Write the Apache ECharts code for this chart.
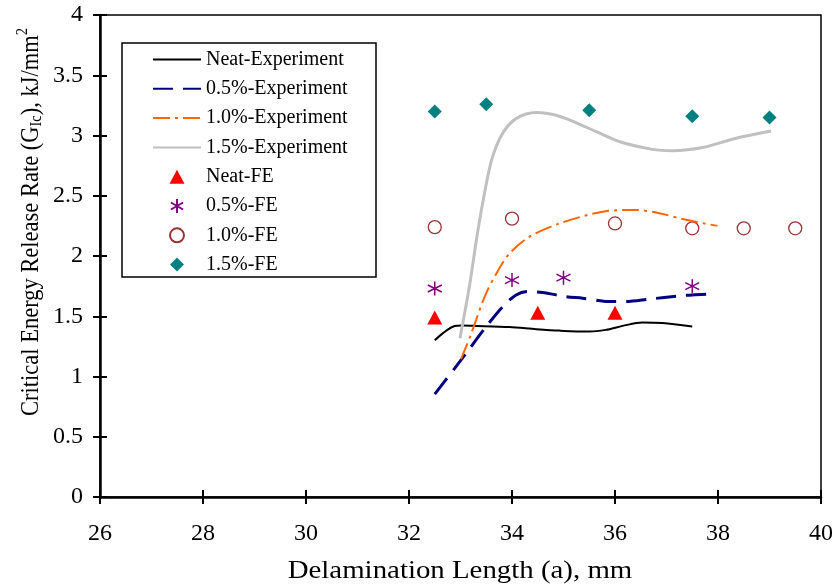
<!DOCTYPE html>
<html>
<head>
<meta charset="utf-8">
<script src="https://cdn.jsdelivr.net/npm/echarts@6/dist/echarts.min.js"></script>
<style>
html,body{margin:0;padding:0;background:#fff;}
#chart{width:836px;height:588px;}
</style>
</head>
<body>
<div id="chart"></div>
<script>
// ---- data ----
const xTicks = [26, 28, 30, 32, 34, 36, 38, 40];
const yTicks = [0, 0.5, 1, 1.5, 2, 2.5, 3, 3.5, 4];

const seriesNames = ['Neat-Experiment', '0.5%-Experiment', '1.0%-Experiment', '1.5%-Experiment',
                     'Neat-FE', '0.5%-FE', '1.0%-FE', '1.5%-FE'];

const neatExpX = [32.5, 32.66, 32.86, 33.05, 33.31, 33.95, 34.47, 34.92, 35.5, 35.82, 36.15, 36.53, 36.92, 37.5];
const neatExpY = [1.30, 1.36, 1.415, 1.423, 1.42, 1.41, 1.393, 1.381, 1.373, 1.387, 1.42, 1.448, 1.443, 1.415];

const p05ExpX = [32.5, 32.89, 33.11, 33.5, 33.82, 34.08, 34.30, 34.59, 35.05, 35.37, 35.89, 36.21, 36.66, 37.25, 37.5, 37.86];
const p05ExpY = [0.854, 1.07, 1.194, 1.415, 1.58, 1.677, 1.705, 1.697, 1.663, 1.65, 1.622, 1.622, 1.642, 1.669, 1.677, 1.683];

const p10ExpX = [33.01, 33.2, 33.47, 33.7, 33.95, 34.34, 34.92, 35.76, 36.40, 36.86, 37.38, 37.99];
const p10ExpY = [1.144, 1.346, 1.663, 1.857, 2.02, 2.16, 2.27, 2.368, 2.382, 2.355, 2.30, 2.25];

const p15ExpX = [32.99, 33.17, 33.33, 33.49, 33.62, 33.82, 34.08, 34.47, 34.92, 35.44, 36.08, 36.73, 37.12, 37.70, 38.35, 39.03];
const p15ExpY = [1.318, 1.74, 2.19, 2.575, 2.82, 3.02, 3.14, 3.19, 3.16, 3.07, 2.95, 2.885, 2.874, 2.90, 2.977, 3.037];

const neatFEX = [32.5, 34.5, 36.0];
const neatFEY = [1.49, 1.53, 1.53];

const p05FEX = [32.5, 34.0, 35.0, 37.5];
const p05FEY = [1.73, 1.80, 1.82, 1.75];

const p10FEX = [32.5, 34.0, 36.0, 37.5, 38.5, 39.5];
const p10FEY = [2.24, 2.31, 2.27, 2.23, 2.23, 2.23];

const p15FEX = [32.5, 33.5, 35.5, 37.5, 39.0];
const p15FEY = [3.20, 3.26, 3.21, 3.16, 3.15];

// ---- build ----
function pairs(xs, ys) { return xs.map((x, i) => [x, ys[i]]); }
const FONT = 'Liberation Serif, Times New Roman, serif';

const xMin = xTicks[0], xMax = xTicks[xTicks.length - 1], xInt = xTicks[1] - xTicks[0];
const yMin = yTicks[0], yMax = yTicks[yTicks.length - 1], yInt = yTicks[1] - yTicks[0];

const baseX = {
  type: 'value', min: xMin, max: xMax, interval: xInt, position: 'bottom',
  splitLine: { show: false }
};
const baseY = {
  type: 'value', min: yMin, max: yMax, interval: yInt, position: 'left',
  splitLine: { show: false }
};

const asteriskPath = 'path://M0,-10L0,10M-8.66,-5L8.66,5M-8.66,5L8.66,-5';
const trianglePath = 'path://M7.5,0L15,14L0,14Z';
const diamondPath = 'path://M7,0L14,7L7,14L0,7Z';
const circlePath = 'path://M0,7A7,7,0,1,1,14,7A7,7,0,1,1,0,7Z';

const legendData = seriesNames.map((n, i) => i < 4 ? { name: n, itemStyle: { opacity: 0 } } : { name: n });

const chart = echarts.init(document.getElementById('chart'), null, { renderer: 'canvas' });
chart.setOption({
  animation: false,
  backgroundColor: '#fff',
  grid: { left: 100, right: 14, top: 15, bottom: 91, show: true, borderColor: '#000', borderWidth: 1.5, backgroundColor: 'transparent' },
  xAxis: [
    Object.assign({}, baseX, {
      axisLine: { show: true, lineStyle: { color: '#000', width: 2.5 } },
      axisTick: { show: true, inside: false, length: 7, lineStyle: { color: '#000', width: 2 } },
      axisLabel: { show: true, margin: 25, color: '#000', fontSize: 24, fontFamily: FONT }
    }),
    Object.assign({}, baseX, {
      axisLine: { show: false },
      axisTick: { show: true, inside: true, length: 7, lineStyle: { color: '#000', width: 2 } },
      axisLabel: { show: false }
    })
  ],
  yAxis: [
    Object.assign({}, baseY, {
      axisLine: { show: true, lineStyle: { color: '#000', width: 2.5 } },
      axisTick: { show: true, inside: false, length: 7, lineStyle: { color: '#000', width: 2 } },
      axisLabel: { show: true, margin: 17, color: '#000', fontSize: 24, fontFamily: FONT }
    }),
    Object.assign({}, baseY, {
      axisLine: { show: false },
      axisTick: { show: true, inside: true, length: 7, lineStyle: { color: '#000', width: 2 } },
      axisLabel: { show: false }
    })
  ],
  legend: {
    orient: 'vertical', left: 152, top: 49.5,
    itemWidth: 48, itemHeight: 14, itemGap: 9.3,
    padding: 0,
    symbolKeepAspect: true,
    textStyle: { color: '#000', fontSize: 20, fontFamily: FONT, lineHeight: 20 },
    data: legendData
  },
  graphic: [
    { type: 'rect', shape: { x: 122, y: 43, width: 254, height: 234 }, style: { fill: 'transparent', stroke: '#000', lineWidth: 1.5 }, z: 100 },
    { type: 'text', x: 460, y: 571, z: 100,
      style: { text: 'Delamination Length (a), mm', font: '26px ' + FONT, fill: '#000', align: 'center', verticalAlign: 'middle' },
      scaleX: 1.11 },
    { type: 'text', x: 31, y: 222, rotation: Math.PI / 2, z: 100,
      style: {
        text: '{a|Critical Energy Release Rate (G}{s|Ic}{a|), kJ/mm}{p|2}',
        align: 'center', verticalAlign: 'middle',
        rich: {
          a: { fontSize: 25, fontFamily: FONT, color: '#000', lineHeight: 32, verticalAlign: 'middle' },
          s: { fontSize: 16, fontFamily: FONT, color: '#000', lineHeight: 32, verticalAlign: 'bottom', padding: [0, 0, 2, 0] },
          p: { fontSize: 16, fontFamily: FONT, color: '#000', lineHeight: 32, verticalAlign: 'top' }
        }
      },
      scaleX: 0.9 }
  ],
  series: [
    { name: seriesNames[0], type: 'line', smooth: 0.3, symbol: 'none', data: pairs(neatExpX, neatExpY),
      lineStyle: { color: '#000', width: 2 }, itemStyle: { color: '#000' } },
    { name: seriesNames[1], type: 'line', smooth: 0.3, symbol: 'none', data: pairs(p05ExpX, p05ExpY),
      lineStyle: { color: '#000080', width: 3, type: [20, 10] }, itemStyle: { color: '#000080' } },
    { name: seriesNames[2], type: 'line', smooth: 0.3, symbol: 'none', data: pairs(p10ExpX, p10ExpY),
      lineStyle: { color: '#FF6600', width: 2, type: [17, 5, 3, 5] }, itemStyle: { color: '#FF6600' } },
    { name: seriesNames[3], type: 'line', smooth: 0.3, symbol: 'none', data: pairs(p15ExpX, p15ExpY),
      lineStyle: { color: '#C0C0C0', width: 3 }, itemStyle: { color: '#C0C0C0' } },
    { name: seriesNames[4], type: 'scatter', symbol: trianglePath, symbolSize: [15, 14], data: pairs(neatFEX, neatFEY),
      itemStyle: { color: '#FF0000', opacity: 1 } },
    { name: seriesNames[5], type: 'scatter', symbol: asteriskPath, symbolSize: 14, data: pairs(p05FEX, p05FEY),
      itemStyle: { color: 'transparent', borderColor: '#800080', borderWidth: 1.5, opacity: 1 } },
    { name: seriesNames[6], type: 'scatter', symbol: circlePath, symbolSize: 13, data: pairs(p10FEX, p10FEY),
      itemStyle: { color: 'transparent', borderColor: '#993333', borderWidth: 1.3, opacity: 1 } },
    { name: seriesNames[7], type: 'scatter', symbol: diamondPath, symbolSize: 14, data: pairs(p15FEX, p15FEY),
      itemStyle: { color: '#008080', opacity: 1 } }
  ]
});
</script>
</body>
</html>
